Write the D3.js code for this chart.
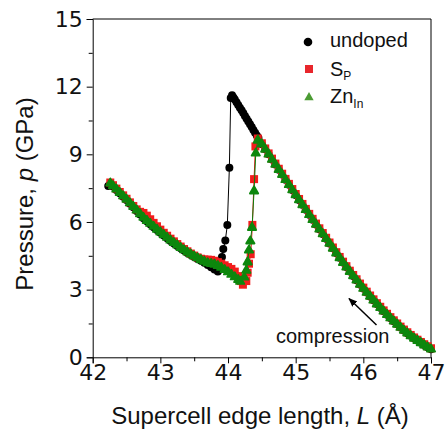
<!DOCTYPE html>
<html>
<head>
<meta charset="utf-8">
<script src="https://cdn.jsdelivr.net/npm/d3@7"></script>
<style>
  body { margin: 0; background: #fff; }
  svg { display: block; }
</style>
</head>
<body>
<div id="chart"></div>
<script>
// [L (Å), p (GPa)]
var undopedPts = [
  [42.23,7.60],[42.26,7.69],[42.30,7.57],[42.35,7.42],[42.40,7.27],[42.45,7.12],[42.50,6.97],
  [42.55,6.81],[42.60,6.65],[42.65,6.49],[42.70,6.33],[42.75,6.17],[42.80,6.03],[42.85,5.90],
  [42.90,5.77],[42.95,5.64],[43.00,5.52],[43.05,5.40],[43.10,5.28],[43.15,5.16],[43.20,5.05],
  [43.25,4.94],[43.30,4.83],[43.35,4.73],[43.40,4.63],[43.45,4.54],[43.50,4.45],[43.55,4.36],
  [43.60,4.28],[43.65,4.19],[43.70,4.09],[43.75,3.99],[43.80,3.89],[43.85,3.80],
  [43.89,4.15],[43.91,4.45],[43.93,4.80],[43.96,5.18],[43.99,5.87],[44.02,8.40],[44.04,11.50],
  [44.06,11.62],[44.08,11.52],[44.10,11.43],[44.125,11.31],[44.15,11.19],[44.175,11.07],
  [44.20,10.95],[44.225,10.83],[44.25,10.70],[44.275,10.58],[44.30,10.46],[44.325,10.33],
  [44.35,10.21],[44.375,10.08],[44.40,9.96],[44.425,9.84],[44.45,9.72],
  [44.50,9.45],[44.55,9.22],[44.60,9.00],[44.65,8.77],[44.70,8.55],[44.75,8.32],[44.80,8.10],
  [44.85,7.87],[44.90,7.65],[44.95,7.42],[45.00,7.20],[45.05,6.98],[45.10,6.76],[45.15,6.54],
  [45.20,6.32],[45.25,6.10],[45.30,5.89],[45.35,5.68],[45.40,5.47],[45.45,5.26],[45.50,5.05],
  [45.55,4.83],[45.60,4.62],[45.65,4.41],[45.70,4.20],[45.75,4.00],[45.80,3.80],[45.85,3.61],
  [45.90,3.42],[45.95,3.23],[46.00,3.05],[46.05,2.87],[46.10,2.70],[46.15,2.53],[46.20,2.36],
  [46.25,2.20],[46.30,2.04],[46.35,1.89],[46.40,1.74],[46.45,1.60],[46.50,1.46],[46.55,1.32],
  [46.60,1.19],[46.65,1.07],[46.70,0.95],[46.75,0.84],[46.80,0.74],[46.85,0.64],[46.90,0.54],
  [46.95,0.45],[47.00,0.36]
];

var spPts = [
  [42.26,7.75],[42.30,7.63],[42.35,7.48],[42.40,7.33],[42.45,7.18],[42.50,7.03],[42.55,6.87],
  [42.60,6.71],[42.65,6.56],[42.70,6.45],[42.75,6.40],[42.80,6.28],[42.85,6.12],[42.90,5.96],
  [42.95,5.81],[43.00,5.66],[43.05,5.52],[43.10,5.39],[43.15,5.26],[43.20,5.14],[43.25,5.02],
  [43.30,4.91],[43.35,4.80],[43.40,4.70],[43.45,4.60],[43.50,4.51],[43.55,4.43],[43.60,4.37],
  [43.65,4.34],[43.70,4.33],[43.75,4.32],[43.80,4.28],[43.85,4.22],[43.90,4.15],[43.95,4.08],
  [44.00,4.00],[44.05,3.92],[44.10,3.80],[44.15,3.60],[44.19,3.38],[44.22,3.22],
  [44.27,3.38],[44.29,3.75],[44.31,4.15],[44.335,4.57],[44.36,5.87],[44.385,7.90],[44.405,9.35],
  [44.44,9.70],
  [44.50,9.49],[44.55,9.26],[44.60,9.04],[44.65,8.81],[44.70,8.59],[44.75,8.36],[44.80,8.14],
  [44.85,7.91],[44.90,7.69],[44.95,7.46],[45.00,7.24],[45.05,7.02],[45.10,6.80],[45.15,6.58],
  [45.20,6.36],[45.25,6.14],[45.30,5.93],[45.35,5.72],[45.40,5.51],[45.45,5.30],[45.50,5.09],
  [45.55,4.87],[45.60,4.66],[45.65,4.45],[45.70,4.24],[45.75,4.04],[45.80,3.84],[45.85,3.65],
  [45.90,3.46],[45.95,3.27],[46.00,3.09],[46.05,2.91],[46.10,2.74],[46.15,2.57],[46.20,2.40],
  [46.25,2.24],[46.30,2.08],[46.35,1.93],[46.40,1.78],[46.45,1.64],[46.50,1.50],[46.55,1.36],
  [46.60,1.23],[46.65,1.11],[46.70,0.99],[46.75,0.88],[46.80,0.78],[46.85,0.68],[46.90,0.58],
  [46.95,0.49],[47.00,0.40]
];

var znPts = [
  [42.26,7.72],[42.30,7.60],[42.35,7.45],[42.40,7.30],[42.45,7.15],[42.50,7.00],[42.55,6.84],
  [42.60,6.68],[42.65,6.52],[42.70,6.36],[42.75,6.20],[42.80,6.06],[42.85,5.93],[42.90,5.80],
  [42.95,5.67],[43.00,5.55],[43.05,5.43],[43.10,5.31],[43.15,5.19],[43.20,5.08],[43.25,4.97],
  [43.30,4.86],[43.35,4.76],[43.40,4.66],[43.45,4.57],[43.50,4.48],[43.55,4.40],[43.60,4.32],
  [43.65,4.25],[43.70,4.18],[43.75,4.15],[43.80,4.12],[43.85,4.06],[43.90,3.98],[43.95,3.88],
  [44.00,3.78],[44.05,3.67],[44.10,3.56],[44.15,3.44],[44.18,3.36],
  [44.24,3.55],[44.27,3.85],[44.29,4.22],[44.31,4.75],[44.33,5.15],[44.355,5.75],[44.385,7.37],
  [44.41,9.05],[44.44,9.62],
  [44.50,9.45],[44.55,9.22],[44.60,9.00],[44.65,8.77],[44.70,8.55],[44.75,8.32],[44.80,8.10],
  [44.85,7.87],[44.90,7.65],[44.95,7.42],[45.00,7.20],[45.05,6.98],[45.10,6.76],[45.15,6.54],
  [45.20,6.32],[45.25,6.10],[45.30,5.89],[45.35,5.68],[45.40,5.47],[45.45,5.26],[45.50,5.05],
  [45.55,4.83],[45.60,4.62],[45.65,4.41],[45.70,4.20],[45.75,4.00],[45.80,3.80],[45.85,3.61],
  [45.90,3.42],[45.95,3.23],[46.00,3.05],[46.05,2.87],[46.10,2.70],[46.15,2.53],[46.20,2.36],
  [46.25,2.20],[46.30,2.04],[46.35,1.89],[46.40,1.74],[46.45,1.60],[46.50,1.46],[46.55,1.32],
  [46.60,1.19],[46.65,1.07],[46.70,0.95],[46.75,0.84],[46.80,0.74],[46.85,0.64],[46.90,0.54],
  [46.95,0.45],[47.00,0.36]
];

var xTicks = [42, 43, 44, 45, 46, 47]
var xMinor = [42.5, 43.5, 44.5, 45.5, 46.5]
var yTicks = [0, 3, 6, 9, 12, 15]
var yMinor = [1.5, 4.5, 7.5, 10.5, 13.5]

var W = 446, H = 432
var plotLeft = 92.7, plotRight = 431, plotTop = 19, plotBottom = 357.3

var svg = d3.select("#chart").append("svg")
            .attr("width", W)
            .attr("height", H)

svg.append("rect").attr("width", W).attr("height", H).attr("fill", "#fff")

var x = d3.scaleLinear().domain([42, 47]).range([plotLeft, plotRight])
var y = d3.scaleLinear().domain([0, 15]).range([plotBottom, plotTop])

// frame (top + right)
svg.append("path")
   .attr("d", "M" + plotLeft + "," + plotTop + "H" + plotRight + "V" + plotBottom)
   .attr("fill", "none")
   .attr("stroke", "#000")
   .attr("stroke-width", 1)

// axes
svg.append("g")
   .attr("transform", "translate(0," + plotBottom + ")")
   .call(d3.axisBottom(x).tickValues(xTicks).tickSize(6).tickPadding(1).tickFormat(d3.format("d")))
svg.append("g")
   .attr("transform", "translate(0," + plotBottom + ")")
   .call(d3.axisBottom(x).tickValues(xMinor).tickSize(4).tickFormat(""))
   .select(".domain").remove()

svg.append("g")
   .attr("transform", "translate(" + plotLeft + ",0)")
   .call(d3.axisLeft(y).tickValues(yTicks).tickSize(6).tickPadding(4).tickFormat(d3.format("d")))
svg.append("g")
   .attr("transform", "translate(" + plotLeft + ",0)")
   .call(d3.axisLeft(y).tickValues(yMinor).tickSize(4).tickFormat(""))
   .select(".domain").remove()

svg.selectAll(".tick text")
   .attr("font-family", "DejaVu Sans")
   .attr("font-size", 22)
   .attr("fill", "#111")
svg.selectAll(".domain, .tick line").attr("stroke", "#000")

// series
var line = d3.line().x(function(d) { return x(d[0]) }).y(function(d) { return y(d[1]) })

svg.append("path").datum(undopedPts).attr("d", line)
   .attr("fill", "none").attr("stroke", "#000").attr("stroke-width", 1)
svg.append("g").selectAll("circle").data(undopedPts).enter().append("circle")
   .attr("cx", function(d) { return x(d[0]) })
   .attr("cy", function(d) { return y(d[1]) })
   .attr("r", 4)
   .attr("fill", "#000")

svg.append("path").datum(spPts).attr("d", line)
   .attr("fill", "none").attr("stroke", "#e01010").attr("stroke-width", 1)
svg.append("g").selectAll("rect").data(spPts).enter().append("rect")
   .attr("x", function(d) { return x(d[0]) - 4 })
   .attr("y", function(d) { return y(d[1]) - 4 })
   .attr("width", 8)
   .attr("height", 8)
   .attr("fill", "#f21c1c")

var tri = d3.symbol().type(d3.symbolTriangle).size(30)
svg.append("path").datum(znPts).attr("d", line)
   .attr("fill", "none").attr("stroke", "#0a800a").attr("stroke-width", 1)
svg.append("g").selectAll("path").data(znPts).enter().append("path")
   .attr("d", tri)
   .attr("transform", function(d) { return "translate(" + x(d[0]) + "," + y(d[1]) + ")" })
   .attr("fill", "#0d870d")
   .attr("stroke", "#0d870d")
   .attr("stroke-width", 1.8)
   .attr("stroke-linejoin", "round")

// axis titles
svg.append("text")
   .attr("x", 260).attr("y", 424)
   .attr("text-anchor", "middle")
   .attr("font-family", "Liberation Sans")
   .attr("font-size", 24)
   .attr("fill", "#111")
   .html('Supercell edge length, <tspan font-style="italic">L</tspan> (Å)')

svg.append("text")
   .attr("transform", "translate(33,194) rotate(-90)")
   .attr("text-anchor", "middle")
   .attr("font-family", "Liberation Sans")
   .attr("font-size", 24)
   .attr("fill", "#111")
   .html('Pressure, <tspan font-style="italic">p</tspan> (GPa)')

// legend
var legend = svg.append("g").attr("font-family", "Liberation Sans").attr("fill", "#111")
legend.append("circle").attr("cx", 308).attr("cy", 42).attr("r", 4.3).attr("fill", "#000")
legend.append("text").attr("x", 330).attr("y", 47).attr("font-size", 20).text("undoped")

legend.append("rect").attr("x", 305).attr("y", 65).attr("width", 8).attr("height", 8).attr("fill", "#e8262c")
legend.append("text").attr("x", 330).attr("y", 76).attr("font-size", 20)
      .html('S<tspan font-size="12" dy="4">P</tspan>')

legend.append("path").attr("d", d3.symbol().type(d3.symbolTriangle).size(38))
      .attr("transform", "translate(309,97.5)").attr("fill", "#4b9b33")
legend.append("text").attr("x", 330).attr("y", 103).attr("font-size", 20)
      .html('Zn<tspan font-size="12" dy="5">In</tspan>')

// compression arrow
svg.append("defs").append("marker")
   .attr("id", "head")
   .attr("viewBox", "0 0 10 10")
   .attr("refX", 9).attr("refY", 5)
   .attr("markerWidth", 9).attr("markerHeight", 9)
   .attr("markerUnits", "userSpaceOnUse")
   .attr("orient", "auto")
   .append("path").attr("d", "M0,1 L10,5 L0,9 Z").attr("fill", "#000")

svg.append("line")
   .attr("x1", 376.5).attr("y1", 325)
   .attr("x2", 349).attr("y2", 298.5)
   .attr("stroke", "#000").attr("stroke-width", 1.5)
   .attr("marker-end", "url(#head)")

svg.append("text")
   .attr("x", 276).attr("y", 343)
   .attr("font-family", "Liberation Sans")
   .attr("font-size", 20)
   .attr("fill", "#111")
   .text("compression")
</script>
</body>
</html>
